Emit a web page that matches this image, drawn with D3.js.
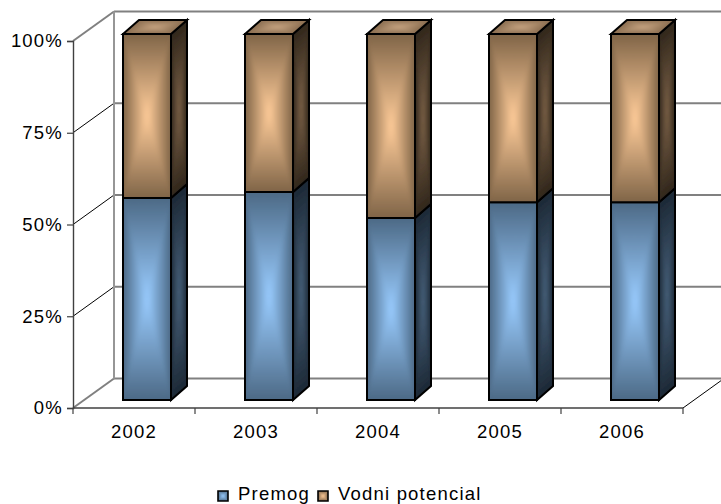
<!DOCTYPE html>
<html>
<head>
<meta charset="utf-8">
<script src="https://cdn.jsdelivr.net/npm/d3@7"></script>
<style>
html, body { margin: 0; padding: 0; background: #fff; }
svg { display: block; }
text { font-family: "Liberation Sans", Arial, sans-serif; fill: #000; }
</style>
</head>
<body>
<div id="chart"></div>
<script>
var years = ['2002', '2003', '2004', '2005', '2006'];
var seriesNames = ['Premog', 'Vodni potencial'];
var premog = [55.2, 56.8, 49.7, 54, 54];
var vodni = [44.8, 43.2, 50.3, 46, 46];
var percentTicks = [0, 25, 50, 75, 100];

var width = 721,
    height = 504;
var fontSize = '18.5px',
    spacing = '1.2px';

var svg = d3.select('#chart').append('svg')
    .attr('width', width)
    .attr('height', height);
var defs = svg.append('defs');

defs.append('filter').attr('id', 'soft')
    .append('feGaussianBlur').attr('stdDeviation', 1.6);

// front plane of the 3d box
var x = d3.scaleBand().domain(years).range([73, 683]);
var y = d3.scaleLinear().domain([0, 100]).range([408, 41]);
// the bars sit inside the box, so they have their own vertical scale
var barY = d3.scaleLinear().domain([0, 100]).range([400, 34]);

var wallDx = 41, wallDy = -29.5;
var barDx = 16, barDy = -14;
var barW = 48;

var colors = {
    Premog: {
        front: ['#4c6985', '#99ccff'],
        side: ['#1c2835', '#46607a'],
        top: ['#4c6780', '#7fa8d0']
    },
    'Vodni potencial': {
        front: ['#7f6447', '#ffcc99'],
        side: ['#30261b', '#7a6046'],
        top: ['#8a6d50', '#c8a582']
    }
};

var gradId = 0;
function triGradient(a, b, c, cols) {
    // linear gradient running from edge a-b towards the centre point c
    var ex = b[0] - a[0], ey = b[1] - a[1];
    var t = ((c[0] - a[0]) * ex + (c[1] - a[1]) * ey) / (ex * ex + ey * ey);
    var fx = a[0] + t * ex, fy = a[1] + t * ey;
    var id = 'g' + (gradId++);
    var g = defs.append('linearGradient')
        .attr('id', id)
        .attr('gradientUnits', 'userSpaceOnUse')
        .attr('x1', fx).attr('y1', fy)
        .attr('x2', c[0]).attr('y2', c[1]);
    g.append('stop').attr('offset', 0).attr('stop-color', cols[0]);
    g.append('stop').attr('offset', 1).attr('stop-color', cols[1]);
    return 'url(#' + id + ')';
}

var clipId = 0;
function face(parent, pts, cols, strokeW, soft) {
    var line = d3.line().curve(d3.curveLinearClosed);
    var c = [d3.mean(pts, function(p) { return p[0]; }), d3.mean(pts, function(p) { return p[1]; })];
    var cid = 'c' + (clipId++);
    defs.append('clipPath').attr('id', cid).append('path').attr('d', line(pts));
    parent.append('path').attr('d', line(pts)).attr('fill', cols[0]);
    var holder = parent.append('g').attr('clip-path', 'url(#' + cid + ')');
    var shade = holder.append('g');
    if (soft !== false) shade.attr('filter', 'url(#soft)');
    pts.forEach(function(p, i) {
        var q = pts[(i + 1) % pts.length];
        var fill = triGradient(p, q, c, cols);
        // same colour stroke hides the seams between the triangles
        shade.append('path')
            .attr('d', line([p, q, c]))
            .attr('fill', fill)
            .attr('stroke', fill)
            .attr('stroke-width', 0.4);
    });
    parent.append('path')
        .attr('d', line(pts))
        .attr('fill', 'none')
        .attr('stroke', '#000')
        .attr('stroke-width', strokeW || 2)
        .attr('stroke-linejoin', 'miter');
}

// walls
var walls = svg.append('g');
percentTicks.forEach(function(t) {
    var edge = t === 0 || t === 100;
    walls.append('line')
        .attr('x1', x.range()[0]).attr('y1', y(t))
        .attr('x2', x.range()[0] + wallDx).attr('y2', y(t) + wallDy)
        .attr('stroke', edge ? '#808080' : '#000')
        .attr('stroke-width', edge ? 2 : 1);
    walls.append('line')
        .attr('x1', x.range()[0] + wallDx).attr('y1', y(t) + wallDy)
        .attr('x2', width).attr('y2', y(t) + wallDy)
        .attr('stroke', '#808080')
        .attr('stroke-width', 2);
});
walls.append('line')
    .attr('x1', x.range()[0] + wallDx).attr('y1', y(0) + wallDy)
    .attr('x2', x.range()[0] + wallDx).attr('y2', y(100) + wallDy)
    .attr('stroke', '#969696')
    .attr('stroke-width', 2);
// floor edge on the right
walls.append('line')
    .attr('x1', x.range()[1]).attr('y1', y(0))
    .attr('x2', x.range()[1] + wallDx).attr('y2', y(0) + wallDy)
    .attr('stroke', '#000')
    .attr('stroke-width', 1);

// bars
var bars = svg.append('g');
years.forEach(function(year, i) {
    var left = x(year) + 50;
    var right = left + barW;
    var stack = [[0, premog[i], seriesNames[0]], [premog[i], premog[i] + vodni[i], seriesNames[1]]];
    stack.forEach(function(s) {
        var bottom = barY(s[0]), top = barY(s[1]);
        var c = colors[s[2]];
        face(bars, [[right, top], [right + barDx, top + barDy], [right + barDx, bottom + barDy], [right, bottom]], c.side);
        face(bars, [[left, top], [right, top], [right, bottom], [left, bottom]], c.front);
    });
    var t = barY(100);
    face(bars, [[left, t], [left + barDx, t + barDy], [right + barDx, t + barDy], [right, t]], colors[seriesNames[1]].top);
});

// axes
var axisColor = '#404040';
var xAxis = svg.append('g')
    .attr('transform', 'translate(0,' + y(0) + ')')
    .call(d3.axisBottom(x).tickSize(0).tickPadding(17));
xAxis.select('.domain').remove();
xAxis.selectAll('text').style('font-size', fontSize).style('letter-spacing', spacing).style('font-family', null);
x.domain().concat(['end']).forEach(function(d, i) {
    var px = x.range()[0] + i * x.bandwidth();
    xAxis.append('line').attr('x1', px).attr('x2', px).attr('y1', 0).attr('y2', 6)
        .attr('stroke', axisColor).attr('stroke-width', 1.2);
});
xAxis.append('line').attr('x1', x.range()[0]).attr('x2', x.range()[1])
    .attr('stroke', axisColor).attr('stroke-width', 1.4);

var yAxis = svg.append('g')
    .attr('transform', 'translate(' + x.range()[0] + ',0)')
    .call(d3.axisLeft(y).tickValues(percentTicks).tickSize(6).tickPadding(4).tickFormat(function(d) { return d + '%'; }));
yAxis.select('.domain').attr('stroke', axisColor).attr('stroke-width', 1.4);
yAxis.selectAll('.tick line').attr('stroke', axisColor).attr('stroke-width', 1.2);
yAxis.selectAll('text').style('font-size', fontSize).style('letter-spacing', spacing).style('font-family', null);

// legend
var legend = svg.append('g');
var legendX = [218, 318];
seriesNames.forEach(function(name, i) {
    var c = colors[name].front;
    var lg = legend.append('g').attr('transform', 'translate(' + legendX[i] + ',491)');
    face(lg, [[0, 0], [10, 0], [10, 10], [0, 10]], c, 1.6, false);
    lg.append('text').attr('x', 20).attr('y', 9)
        .style('font-size', fontSize).style('letter-spacing', spacing).text(name);
});
</script>
</body>
</html>
